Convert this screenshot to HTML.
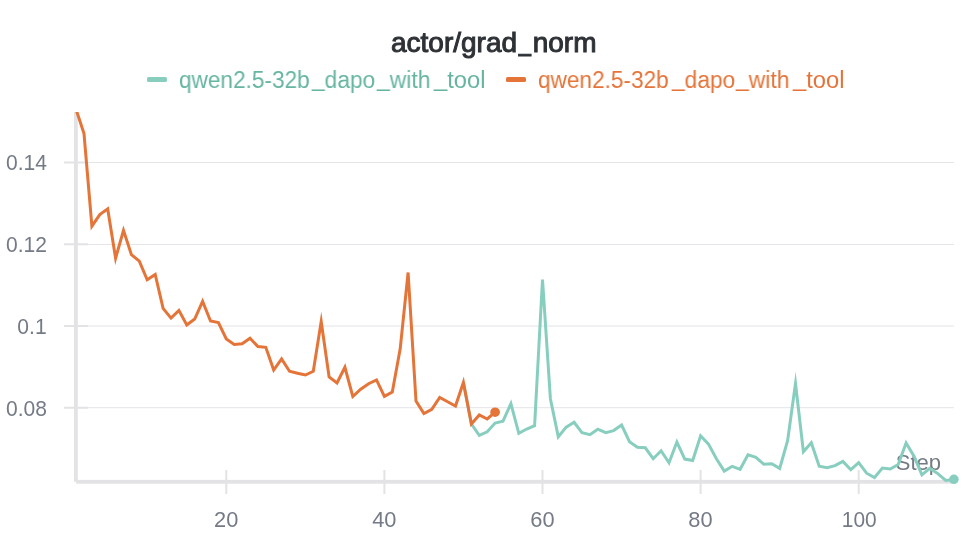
<!DOCTYPE html>
<html><head><meta charset="utf-8"><style>
html,body{-webkit-font-smoothing:antialiased;margin:0;padding:0;background:#fff;width:974px;height:542px;overflow:hidden}
.t{will-change:transform;position:absolute;white-space:nowrap;font-family:"Liberation Sans",sans-serif}
</style></head><body>
<svg width="974" height="542" style="position:absolute;left:0;top:0;will-change:transform">
<g fill="#e4e4e9">
<rect x="76" y="162" width="877.9" height="1"/>
<rect x="76" y="244" width="877.9" height="1"/>
<rect x="76" y="325.5" width="877.9" height="1"/>
<rect x="76" y="407.2" width="877.9" height="1"/>
</g>
<g stroke="#e3e3e6" stroke-width="2">
<line x1="64" y1="162.5" x2="88" y2="162.5"/>
<line x1="64" y1="244.25" x2="88" y2="244.25"/>
<line x1="64" y1="326" x2="88" y2="326"/>
<line x1="64" y1="407.75" x2="88" y2="407.75"/>
<line x1="226.3" y1="470" x2="226.3" y2="494"/>
<line x1="384.4" y1="470" x2="384.4" y2="494"/>
<line x1="542.5" y1="470" x2="542.5" y2="494"/>
<line x1="700.6" y1="470" x2="700.6" y2="494"/>
<line x1="858.7" y1="470" x2="858.7" y2="494"/>
</g>
<g fill="#e3e3e6">
<rect x="74" y="112" width="3.8" height="369.8"/>
<rect x="76.1" y="479.9" width="877.8" height="3.8"/>
</g>
<text x="941" y="469.7" text-anchor="end" font-family="Liberation Sans" font-size="22" fill="#747a86">Step</text>
<defs><clipPath id="pc"><rect x="0" y="112" width="974" height="430"/></clipPath></defs>
<g fill="none" stroke-width="3" stroke-linejoin="miter" stroke-miterlimit="10" clip-path="url(#pc)">
<polyline stroke="#87cebf" points="463.4,382.4 471.4,424.0 479.3,435.3 487.2,431.8 495.1,423.0 503.0,421.2 510.9,403.6 518.8,433.3 526.7,429.0 534.6,425.7 542.5,279.5 550.4,398.7 558.3,436.8 566.2,427.1 574.1,422.3 582.0,432.7 589.9,434.7 597.8,429.2 605.7,432.7 613.6,430.6 621.6,425.0 629.5,441.7 637.4,447.2 645.3,447.8 653.2,458.7 661.1,450.8 669.0,462.8 676.9,442.0 684.8,459.1 692.7,460.5 700.6,435.8 708.5,444.1 716.4,458.7 724.3,471.1 732.2,466.3 740.1,469.3 748.0,454.8 755.9,457.3 763.8,464.2 771.7,463.8 779.7,468.4 787.6,440.6 795.5,383.5 803.4,451.7 811.3,442.7 819.2,466.3 827.1,467.7 835.0,465.6 842.9,461.4 850.8,469.7 858.7,462.7 866.6,473.2 874.5,477.5 882.4,468.1 890.3,469.0 898.2,464.5 906.1,443.0 914.0,456.2 921.9,474.9 929.8,468.4 937.8,473.6 945.7,480.5 953.6,479.5"/>
<polyline stroke="#e57439" points="76.1,109.5 84.0,133.6 91.9,226.2 99.8,214.6 107.7,208.9 115.6,258.2 123.5,230.4 131.4,254.7 139.3,261.2 147.2,279.8 155.2,274.4 163.1,308.4 171.0,318.1 178.9,310.4 186.8,325.0 194.7,319.0 202.6,301.4 210.5,321.0 218.4,322.5 226.3,339.0 234.2,344.5 242.1,343.8 250.0,338.3 257.9,346.6 265.8,347.3 273.7,370.1 281.6,359.0 289.5,371.3 297.4,373.2 305.4,375.0 313.3,371.3 321.2,321.5 329.1,377.0 337.0,383.0 344.9,367.3 352.8,396.5 360.7,389.2 368.6,383.7 376.5,379.9 384.4,396.4 392.3,392.0 400.2,348.8 408.1,272.5 416.0,401.0 423.9,413.5 431.8,409.3 439.7,397.5 447.6,401.7 455.5,406.0 463.4,382.4 471.4,424.0 479.3,414.9 487.2,419.0 495.1,412.2"/>
</g>
<circle cx="495.1" cy="412.2" r="4.8" fill="#e57439"/>
<circle cx="953.9" cy="479.3" r="4.8" fill="#87cebf"/>
</svg>
<div class="t" style="left:390.7px;top:23px;font-size:28px;line-height:40px;color:#2e3136;-webkit-text-stroke:1px #2e3136">actor/grad<span style="display:inline-block;position:relative;top:-2px;transform:scaleX(0.78)">_</span>norm</div>
<div style="position:absolute;left:146.7px;top:77.4px;width:20.1px;height:4.6px;border-radius:1.6px;background:#87cebf"></div>
<div class="t" style="left:179.0px;top:65px;font-size:23.5px;line-height:30px;color:#66b5a1;transform:scaleX(0.962);transform-origin:0 0">qwen2.5-32b</div>
<div class="t" style="left:312.3px;top:65px;font-size:23.5px;line-height:30px;color:#66b5a1;transform:scaleX(0.967);transform-origin:0 0"><span style="position:relative;top:-1.8px">_</span>dapo</div>
<div class="t" style="left:377.0px;top:65px;font-size:23.5px;line-height:30px;color:#66b5a1;transform:scaleX(0.976);transform-origin:0 0"><span style="position:relative;top:-1.8px">_</span>with</div>
<div class="t" style="left:433.7px;top:65px;font-size:23.5px;line-height:30px;color:#66b5a1;transform:scaleX(1.010);transform-origin:0 0"><span style="position:relative;top:-1.8px">_</span>tool</div>

<div style="position:absolute;left:506px;top:77.4px;width:20.1px;height:4.6px;border-radius:1.6px;background:#e57439"></div>
<div class="t" style="left:538.3px;top:65px;font-size:23.5px;line-height:30px;color:#e57439;transform:scaleX(0.962);transform-origin:0 0">qwen2.5-32b</div>
<div class="t" style="left:671.6px;top:65px;font-size:23.5px;line-height:30px;color:#e57439;transform:scaleX(0.967);transform-origin:0 0"><span style="position:relative;top:-1.8px">_</span>dapo</div>
<div class="t" style="left:736.3px;top:65px;font-size:23.5px;line-height:30px;color:#e57439;transform:scaleX(0.976);transform-origin:0 0"><span style="position:relative;top:-1.8px">_</span>with</div>
<div class="t" style="left:793.0px;top:65px;font-size:23.5px;line-height:30px;color:#e57439;transform:scaleX(1.010);transform-origin:0 0"><span style="position:relative;top:-1.8px">_</span>tool</div>

<svg width="974" height="542" style="position:absolute;left:0;top:0;will-change:transform">
<g font-family="Liberation Sans" font-size="22.5" fill="#747a86" text-anchor="end">
<text transform="translate(47,0) scale(0.935,1)" x="0" y="170.2">0.14</text>
<text transform="translate(47,0) scale(0.935,1)" x="0" y="252">0.12</text>
<text transform="translate(46.6,0) scale(0.935,1)" x="0" y="333.7">0.1</text>
<text transform="translate(47,0) scale(0.935,1)" x="0" y="416.2">0.08</text>
</g>
<g font-family="Liberation Sans" font-size="22.5" fill="#747a86" text-anchor="middle">
<text transform="translate(226.2,0) scale(0.97,1)" x="0" y="527">20</text>
<text transform="translate(384.3,0) scale(0.97,1)" x="0" y="527">40</text>
<text transform="translate(542.4,0) scale(0.97,1)" x="0" y="527">60</text>
<text transform="translate(700.5,0) scale(0.97,1)" x="0" y="527">80</text>
<text transform="translate(859.3,0) scale(0.93,1)" x="0" y="527">100</text>
</g>
</svg>
</body></html>
